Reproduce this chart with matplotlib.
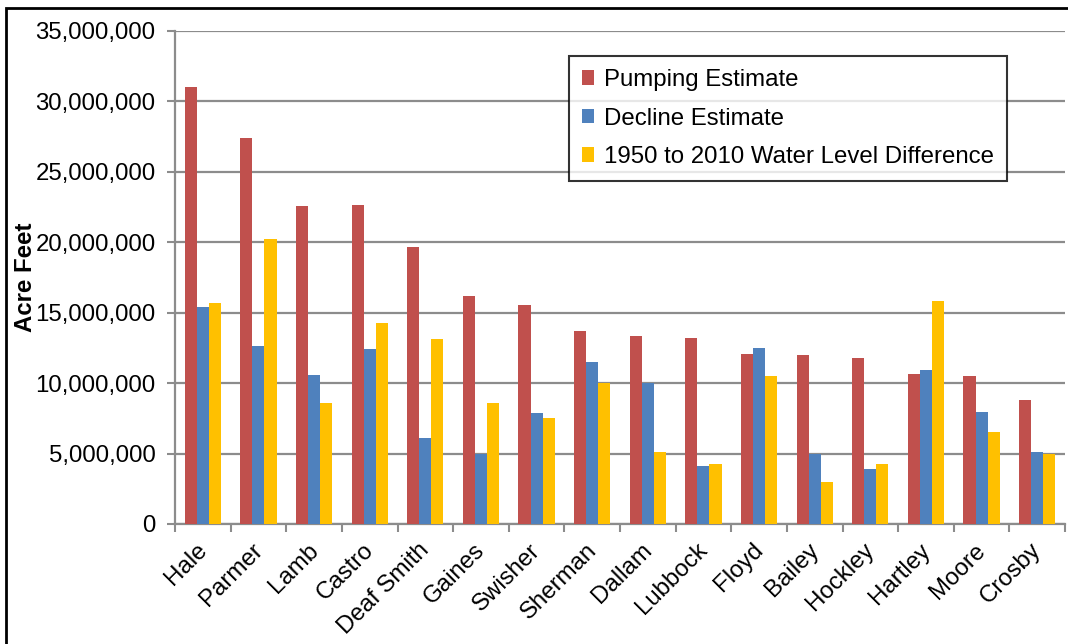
import numpy as np
import matplotlib.pyplot as plt
import matplotlib.transforms as mtransforms
from matplotlib.patches import Rectangle
from matplotlib.ticker import FuncFormatter

plt.rcParams['font.family'] = ['Liberation Sans', 'DejaVu Sans']

counties = ['Hale', 'Parmer', 'Lamb', 'Castro', 'Deaf Smith', 'Gaines', 'Swisher',
            'Sherman', 'Dallam', 'Lubbock', 'Floyd', 'Bailey', 'Hockley', 'Hartley',
            'Moore', 'Crosby']
pumping = [31.0, 27.43, 22.6, 22.64, 19.64, 16.18, 15.52, 13.72, 13.32, 13.17,
           12.04, 12.02, 11.75, 10.64, 10.5, 8.77]
decline = [15.38, 12.66, 10.6, 12.42, 6.12, 5.0, 7.87, 11.52, 9.98, 4.15,
           12.46, 5.0, 3.9, 10.93, 7.92, 5.1]
water_level = [15.68, 20.26, 8.58, 14.26, 13.15, 8.6, 7.56, 9.98, 5.13, 4.27,
               10.52, 2.97, 4.27, 15.85, 6.52, 4.98]

# millions -> acre feet
pumping = np.array(pumping) * 1e6
decline = np.array(decline) * 1e6
water_level = np.array(water_level) * 1e6

fs = 17.3

fig = plt.figure(figsize=(10.68, 6.44), dpi=100)
ax = fig.add_axes([175/1068, 1 - 524/644, (1065-175)/1068, (524-31)/644])

x = np.arange(len(counties))
w = 0.217
ax.bar(x - w, pumping, w, color='#C0504D', label='Pumping Estimate', zorder=3)
ax.bar(x, decline, w, color='#4F81BD', label='Decline Estimate', zorder=3)
ax.bar(x + w, water_level, w, color='#FFC000', label='1950 to 2010 Water Level Difference', zorder=3)

ax.set_xlim(-0.5, len(counties) - 0.5)
ax.set_ylim(0, 35000000)
ax.set_yticks(np.arange(0, 35000001, 5000000))
ax.yaxis.set_major_formatter(FuncFormatter(lambda v, p: '{:,.0f}'.format(v)))
ax.yaxis.grid(True, color='#8c8c8c', linewidth=1.6, zorder=0)

ax.set_xticks(x)
ax.set_xticklabels(counties, rotation=45, ha='right', rotation_mode='anchor', fontsize=fs)
ax.set_xticks(np.arange(-0.5, len(counties), 1), minor=True)
ax.tick_params(axis='x', which='major', length=0, pad=11)
ax.tick_params(axis='x', which='minor', length=6, color='#8c8c8c', width=1.5)
ax.tick_params(axis='y', length=6, color='#8c8c8c', width=1.5, labelsize=fs, pad=8)

# nudge the rotated labels a little to the left
shift = mtransforms.ScaledTranslation(-7/100, 0, fig.dpi_scale_trans)
for lab in ax.get_xticklabels():
    lab.set_transform(lab.get_transform() + shift)

for s in ['top', 'right']:
    ax.spines[s].set_visible(False)
for s in ['left', 'bottom']:
    ax.spines[s].set_color('#8c8c8c')
    ax.spines[s].set_linewidth(1.6)

fig.text(26/1068, 1 - 277/644, 'Acre Feet', rotation=90, fontsize=fs,
         fontweight='bold', ha='center', va='center')

leg = ax.legend(loc='upper left', bbox_to_anchor=((569-175)/890, (524-56)/493),
                fontsize=fs, frameon=True, fancybox=False, handlelength=0.5,
                handleheight=0.55, handletextpad=0.4, labelspacing=0.68,
                borderpad=0.55, borderaxespad=0)
leg.get_frame().set_edgecolor('black')
leg.get_frame().set_linewidth(1.5)

# outer chart frame (only the top and left edges show in the crop)
fig.patches.append(Rectangle((6/1068, -0.1), 1.2, 1 - 8/644 + 0.1, transform=fig.transFigure,
                             fill=False, edgecolor='black', linewidth=2))

fig.savefig('out.png', dpi=100)
